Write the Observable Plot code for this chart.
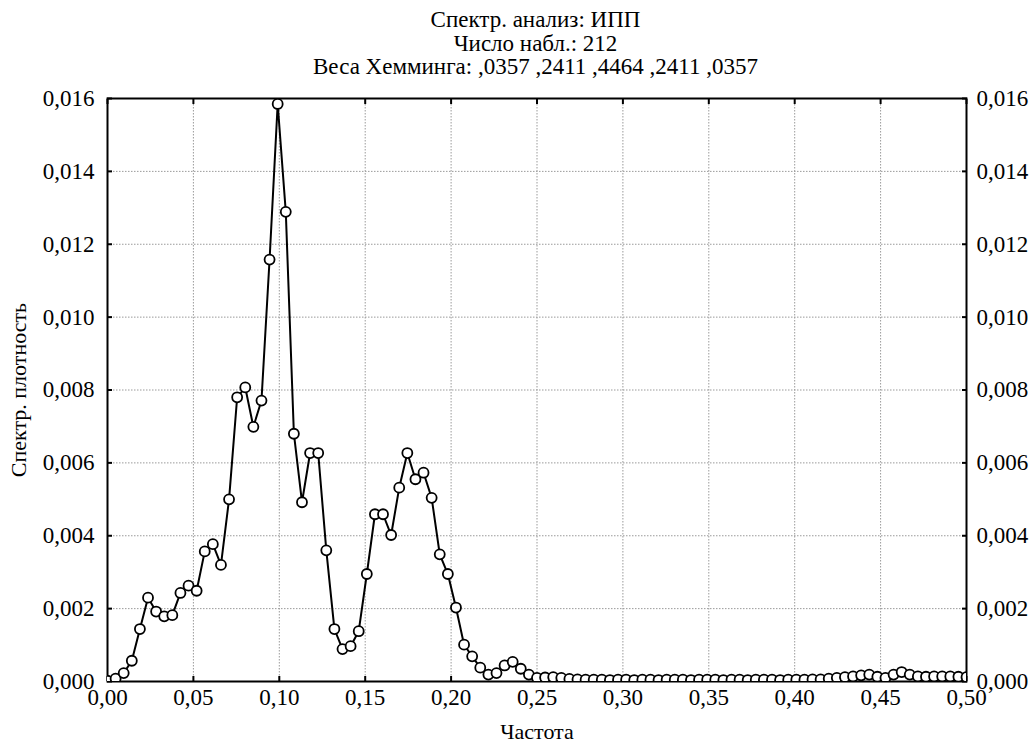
<!DOCTYPE html>
<html>
<head>
<meta charset="utf-8">
<script src="https://cdn.jsdelivr.net/npm/d3@7"></script>
<script src="https://cdn.jsdelivr.net/npm/@observablehq/plot@0.6"></script>
<style>
  html, body { margin: 0; padding: 0; background: #fff; }
  #titles {
    width: 1031px; height: 80px; box-sizing: border-box; padding-top: 8px;
    font-family: "Liberation Serif", "Times New Roman", serif; font-size: 23px;
    line-height: 23.5px; color: #000;
  }
  #titles div { position: relative; left: 20px; text-align: center; }
  #chart svg, #chart svg text { font-family: "Liberation Serif", "Times New Roman", serif !important; }
</style>
</head>
<body>
<div id="titles">
  <div>Спектр. анализ: ИПП</div>
  <div>Число набл.: 212</div>
  <div>Веса Хемминга: ,0357 ,2411 ,4464 ,2411 ,0357</div>
</div>
<div id="chart"></div>
<script>
const nObs = 212;
const density = [
  0.00002, 0.00008, 0.00023, 0.00057, 0.00144, 0.00230, 0.00192, 0.00179, 0.00182, 0.00243,
  0.00263, 0.00249, 0.00357, 0.00377, 0.00320, 0.00500, 0.00780, 0.00807, 0.00699, 0.00771,
  0.01158, 0.01585, 0.01289, 0.00680, 0.00492, 0.00627, 0.00627, 0.00360, 0.00144, 0.00089,
  0.00097, 0.00138, 0.00295, 0.00459, 0.00459, 0.00402, 0.00532, 0.00627, 0.00555, 0.00573,
  0.00504, 0.00349, 0.00295, 0.00203, 0.00101, 0.00069, 0.00038, 0.00019, 0.00023, 0.00044,
  0.00054, 0.00035, 0.00019, 0.00010, 0.00011, 0.00012, 0.00010, 0.00007, 0.00006, 0.00005,
  0.00005, 0.00005, 0.00004, 0.00005, 0.00005, 0.00004, 0.00005, 0.00005, 0.00004, 0.00005,
  0.00005, 0.00005, 0.00004, 0.00005, 0.00005, 0.00005, 0.00004, 0.00005, 0.00005, 0.00004,
  0.00005, 0.00005, 0.00005, 0.00004, 0.00005, 0.00005, 0.00005, 0.00006, 0.00006, 0.00008,
  0.00010, 0.00012, 0.00014, 0.00017, 0.00019, 0.00013, 0.00010, 0.00019, 0.00026, 0.00019,
  0.00014, 0.00013, 0.00014, 0.00014, 0.00014, 0.00013, 0.00012
];
const frequency = density.map((_, k) => k / nObs);
const xTicks = [0, 0.05, 0.10, 0.15, 0.20, 0.25, 0.30, 0.35, 0.40, 0.45, 0.50];
const yTicks = [0, 0.002, 0.004, 0.006, 0.008, 0.010, 0.012, 0.014, 0.016];
const xLabel = "Частота";
const yLabel = "Спектр. плотность";

const data = density.map((v, i) => ({f: frequency[i], v}));
const fmtX = d => d3.format(".2f")(d).replace(".", ",");
const fmtY = d => d3.format(".3f")(d).replace(".", ",");
const grid = {stroke: "#9a9a9a", strokeOpacity: 1, strokeWidth: 1, strokeDasharray: "1.5,1.5"};

const chart = Plot.plot({
  width: 1031,
  height: 666,
  marginTop: 18,
  marginBottom: 65,
  marginLeft: 107,
  marginRight: 65,
  style: {fontFamily: "'Liberation Serif', 'Times New Roman', serif", fontSize: "23px", color: "#000", background: "#fff"},
  x: {domain: [0, 0.5]},
  y: {domain: [0, 0.016]},
  marks: [
    Plot.gridX(xTicks, grid),
    Plot.gridY(yTicks, grid),
    Plot.axisX(xTicks, {anchor: "bottom", tickSize: -5, tickPadding: 12, tickFormat: fmtX, strokeWidth: 2, fontSize: 23, label: null}),
    Plot.axisX({anchor: "bottom", ticks: [], fill: "#000", fontSize: 22, label: xLabel, labelAnchor: "center", labelArrow: "none", labelOffset: 57}),
    Plot.axisX(xTicks, {anchor: "top", tickSize: -5, fill: "none", strokeWidth: 2, label: null}),
    Plot.axisY(yTicks, {anchor: "left", tickSize: -5, tickPadding: 18, tickFormat: fmtY, strokeWidth: 2, fontSize: 23, label: null}),
    Plot.axisY({anchor: "left", ticks: [], fill: "#000", fontSize: 22, label: yLabel, labelAnchor: "center", labelArrow: "none", labelOffset: 97}),
    Plot.axisY(yTicks, {anchor: "right", tickSize: -5, tickPadding: 15, tickFormat: fmtY, strokeWidth: 2, fontSize: 23, label: null}),
    Plot.frame({stroke: "#000", strokeWidth: 2}),
    Plot.line(data, {x: "f", y: "v", stroke: "#000", strokeWidth: 2, clip: true}),
    Plot.dot(data, {x: "f", y: "v", r: 5, fill: "#fff", stroke: "#000", strokeWidth: 1.8, clip: true})
  ]
});
document.getElementById("chart").appendChild(chart);
</script>
</body>
</html>
